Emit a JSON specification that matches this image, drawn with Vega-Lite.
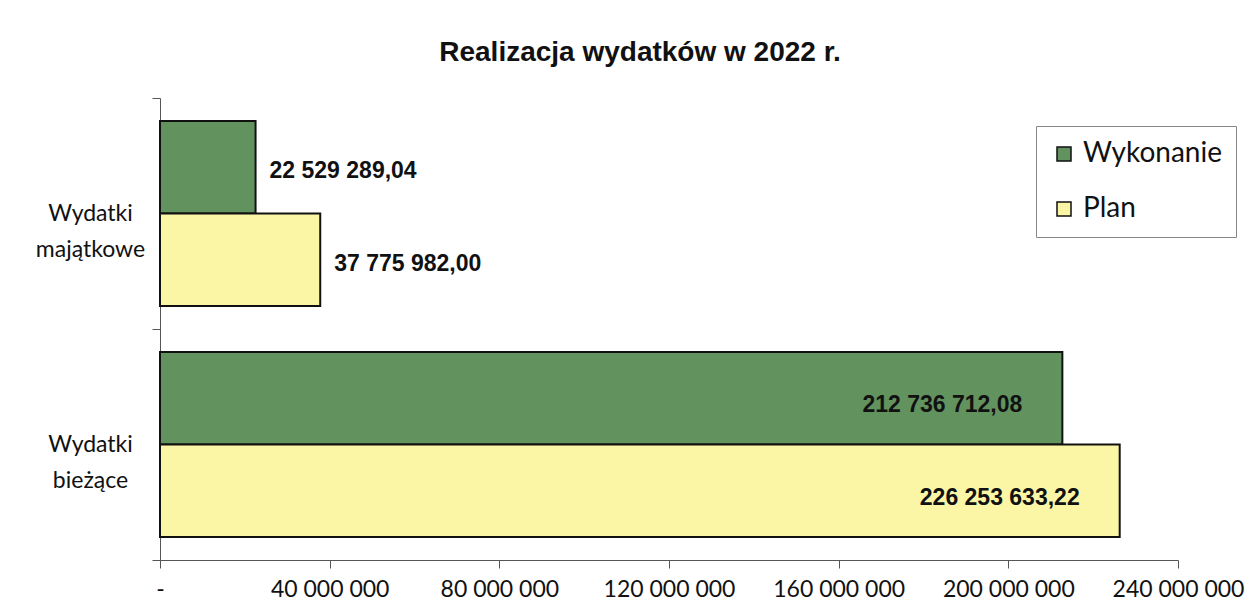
{
  "$schema": "https://vega.github.io/schema/vega-lite/v6.json",
  "autosize": {"type": "none"},
  "width": 1018,
  "height": 462,
  "padding": {"left": 160, "top": 98, "right": 76, "bottom": 55},
  "background": "white",
  "config": {
    "locale": {"number": {"decimal": ",", "thousands": " ", "grouping": [3], "currency": ["", ""]}},
    "view": {"stroke": null},
    "axis": {"labelFont": "Lato", "labelColor": "#111", "domainColor": "#555", "tickColor": "#555", "grid": false, "title": null}
  },
  "title": {
    "text": "Realizacja wydatków w 2022 r.",
    "font": "Liberation Sans",
    "fontSize": 28,
    "fontWeight": "bold",
    "color": "#111",
    "anchor": "middle",
    "frame": "group",
    "dx": -29,
    "offset": 20
  },
  "data": {
    "values": [
      {"kategoria": "Wydatki majątkowe", "seria": "Wykonanie", "wartosc": 22529289.04},
      {"kategoria": "Wydatki majątkowe", "seria": "Plan", "wartosc": 37775982.00},
      {"kategoria": "Wydatki bieżące", "seria": "Wykonanie", "wartosc": 212736712.08},
      {"kategoria": "Wydatki bieżące", "seria": "Plan", "wartosc": 226253633.22}
    ]
  },
  "encoding": {
    "y": {
      "field": "kategoria",
      "type": "nominal",
      "sort": ["Wydatki majątkowe", "Wydatki bieżące"],
      "scale": {"paddingInner": 0, "paddingOuter": 0},
      "axis": {
        "tickBand": "extent",
        "tickSize": 8,
        "labelAlign": "center",
        "labelBaseline": "middle",
        "labelPadding": 62,
        "labelFontSize": 23,
        "labelLineHeight": 36,
        "labelExpr": "split(datum.label, ' ')"
      }
    },
    "yOffset": {
      "field": "seria",
      "type": "nominal",
      "sort": ["Wykonanie", "Plan"],
      "scale": {"paddingOuter": 0.25, "paddingInner": 0}
    },
    "x": {
      "field": "wartosc",
      "type": "quantitative",
      "scale": {"domain": [0, 240000000], "nice": false},
      "axis": {
        "values": [0, 40000000, 80000000, 120000000, 160000000, 200000000, 240000000],
        "tickSize": 8,
        "labelPadding": 10,
        "labelFontSize": 23,
        "labelOverlap": false,
        "labelFlush": false,
        "labelExpr": "datum.value === 0 ? '-' : format(datum.value, ',.0f')"
      }
    }
  },
  "layer": [
    {
      "mark": {"type": "bar", "stroke": "#111", "strokeWidth": 2},
      "encoding": {
        "color": {
          "field": "seria",
          "type": "nominal",
          "scale": {"domain": ["Wykonanie", "Plan"], "range": ["#62935f", "#fbf6a6"]},
          "legend": {
            "title": null,
            "orient": "none",
            "legendX": 876,
            "legendY": 28,
            "padding": 14,
            "strokeColor": "#888",
            "fillColor": "white",
            "symbolType": "square",
            "symbolSize": 196,
            "symbolStrokeColor": "#111",
            "symbolStrokeWidth": 1.5,
            "labelFont": "Lato",
            "labelFontSize": 28,
            "labelColor": "#111",
            "rowPadding": 27,
            "labelOffset": 5
          }
        }
      }
    },
    {
      "transform": [{"filter": "datum.wartosc < 100000000"}],
      "mark": {"type": "text", "align": "left", "baseline": "middle", "dx": 14, "dy": 4, "font": "Liberation Sans", "fontSize": 23, "fontWeight": "bold", "color": "#111"},
      "encoding": {"text": {"field": "wartosc", "type": "quantitative", "format": ",.2f"}}
    },
    {
      "transform": [{"filter": "datum.wartosc >= 100000000"}],
      "mark": {"type": "text", "align": "right", "baseline": "middle", "dx": -40, "dy": 7, "font": "Liberation Sans", "fontSize": 23, "fontWeight": "bold", "color": "#111"},
      "encoding": {"text": {"field": "wartosc", "type": "quantitative", "format": ",.2f"}}
    }
  ]
}
